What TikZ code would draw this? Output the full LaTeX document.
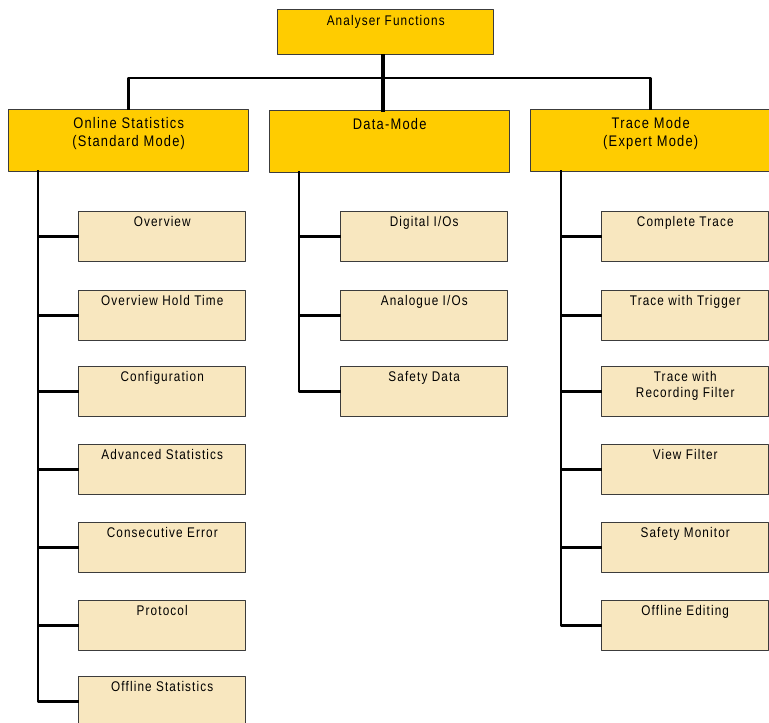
\documentclass[tikz,border=0pt]{standalone}
\usepackage{fontspec}
\setmainfont{Liberation Sans}[FakeStretch=0.84,LetterSpace=8]
\usetikzlibrary{positioning}
\definecolor{gold}{HTML}{FFCC00}
\definecolor{sand}{HTML}{F8E7BF}
\definecolor{rim}{HTML}{3C3C3C}
\tikzset{
  rootbox/.style={draw=rim, fill=gold, line width=1.1pt, anchor=north west, minimum width=162pt, minimum height=33.75pt},
  mainbox/.style={draw=rim, fill=gold, line width=1.1pt, anchor=north west, minimum width=180pt, minimum height=46.5pt},
  subbox/.style={draw=rim, fill=sand, line width=1.1pt, anchor=north west, minimum width=125.25pt, minimum height=37.5pt},
  boxtext/.style={below, inner sep=0pt, yshift=-3.75pt, align=center, font=\fontsize{10.5}{12}\selectfont},
  maintext/.style={boxtext, yshift=-2.25pt, font=\fontsize{11.5}{13.5}\selectfont},
  conn/.style={line width=2pt, line cap=rect}
}
\begin{document}
\begin{tikzpicture}[x=0.75pt,y=-0.75pt,line join=round]
\useasboundingbox (0,0) rectangle (769,723);
% top row
\node[rootbox,label={[boxtext,yshift=-0.75pt]north:Analyser Functions}] (root) at (277,9) {};
\node[mainbox,label={[maintext]north:Online Statistics\\(Standard Mode)}] (online) at (8,109) {};
\node[mainbox,label={[maintext]north:Data-Mode}] (data) at (269,110) {};
\node[mainbox,label={[maintext]north:Trace Mode\\(Expert Mode)}] (trace) at (530,109) {};
\coordinate (bus) at (383,78);
\coordinate (os) at (38,171);
\coordinate (ds) at (299,172);
\coordinate (ts) at (561,171);
\draw[conn,line width=2.6pt] (bus |- root.south) -- (bus |- data.north);
\draw[conn] (online.north) |- (bus) -| (trace.north);
% Online Statistics
\foreach \n/\y/\t in {1/211/Overview, 2/290/Overview Hold Time, 3/366/Configuration, 4/444/Advanced Statistics, 5/522/Consecutive Error, 6/600/Protocol, 7/676/Offline Statistics}{
  \node[subbox,label={[boxtext]north:\t}] (o\n) at (78,\y) {};
  \draw[conn] (os) |- (o\n.west);
}
% Data-Mode
\foreach \n/\y/\t in {1/211/{Digital I/Os}, 2/290/{Analogue I/Os}, 3/366/Safety Data}{
  \node[subbox,label={[boxtext]north:\t}] (d\n) at (340,\y) {};
  \draw[conn] (ds) |- (d\n.west);
}
% Trace Mode
\foreach \n/\y/\t in {1/211/Complete Trace, 2/290/Trace with Trigger, 3/366/{Trace with\\Recording Filter}, 4/444/View Filter, 5/522/Safety Monitor, 6/600/Offline Editing}{
  \node[subbox,label={[boxtext]north:\t}] (t\n) at (601,\y) {};
  \draw[conn] (ts) |- (t\n.west);
}
\end{tikzpicture}
\end{document}
